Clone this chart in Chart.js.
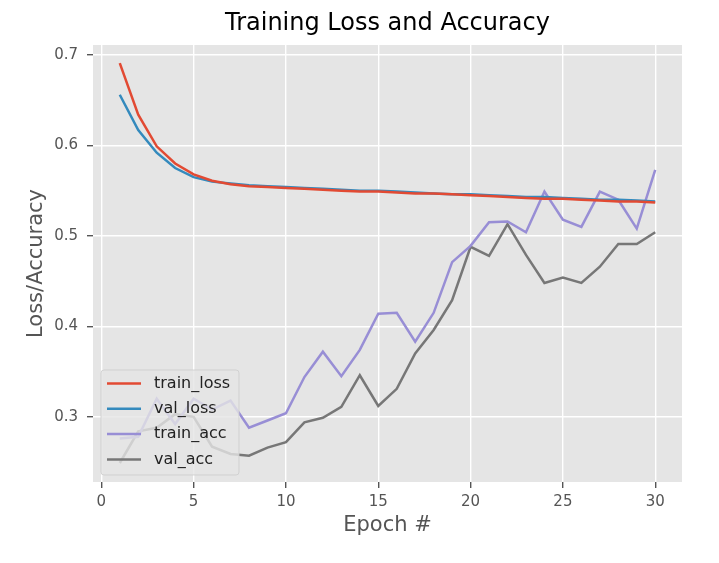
<!DOCTYPE html>
<html>
<head>
<meta charset="utf-8">
<script src="https://cdn.jsdelivr.net/npm/chart.js@4/dist/chart.umd.min.js"></script>
<style>
  html, body { margin: 0; padding: 0; background: #fff; }
  #chart { display: block; }
</style>
</head>
<body>
<canvas id="chart" width="719" height="563"></canvas>
<script>
// Epochs and values
const epochs = [1, 2, 3, 4, 5, 6, 7, 8, 9, 10, 11, 12, 13, 14, 15, 16, 17, 18, 19, 20, 21, 22, 23, 24, 25, 26, 27, 28, 29, 30];

const trainLoss = [0.691, 0.634, 0.599, 0.580, 0.568, 0.561, 0.557, 0.555, 0.554, 0.553,
                   0.552, 0.551, 0.550, 0.549, 0.549, 0.548, 0.547, 0.547, 0.546, 0.545,
                   0.544, 0.543, 0.542, 0.541, 0.541, 0.540, 0.539, 0.538, 0.538, 0.537];
const valLoss = [0.656, 0.617, 0.592, 0.575, 0.565, 0.560, 0.558, 0.556, 0.555, 0.554,
                 0.553, 0.552, 0.551, 0.550, 0.550, 0.549, 0.548, 0.547, 0.546, 0.546,
                 0.545, 0.544, 0.543, 0.543, 0.542, 0.541, 0.540, 0.540, 0.539, 0.538];
const trainAcc = [0.276, 0.278, 0.320, 0.292, 0.320, 0.308, 0.318, 0.288, 0.296, 0.304,
                  0.344, 0.372, 0.345, 0.374, 0.414, 0.415, 0.383, 0.415, 0.471, 0.489,
                  0.515, 0.516, 0.504, 0.549, 0.518, 0.510, 0.549, 0.540, 0.508, 0.573];
const valAcc = [0.249, 0.284, 0.288, 0.303, 0.300, 0.267, 0.259, 0.257, 0.266, 0.272,
                0.294, 0.299, 0.311, 0.346, 0.312, 0.331, 0.370, 0.396, 0.429, 0.488,
                0.478, 0.513, 0.479, 0.448, 0.454, 0.448, 0.466, 0.491, 0.491, 0.504];

const xTicks = [0, 5, 10, 15, 20, 25, 30];
const yTicks = [0.3, 0.4, 0.5, 0.6, 0.7];

const seriesNames = ["train_loss", "val_loss", "train_acc", "val_acc"];
const seriesColors = ["#E24A33", "#348ABD", "#988ED5", "#777777"];
const seriesValues = [trainLoss, valLoss, trainAcc, valAcc];

const chartTitle = 'Training Loss and Accuracy';
const FONT = "'DejaVu Sans', sans-serif";

//Grå bakgrund bakom plottytan + titel centrerad över plottytan
const plotBackground = {
    id: 'plotBackground',
    beforeDraw(chart) {
        const {ctx, chartArea: a} = chart;
        ctx.save();
        ctx.fillStyle = '#E5E5E5';
        ctx.fillRect(a.left, a.top, a.right - a.left, a.bottom - a.top);

        ctx.font = '24px ' + FONT;
        ctx.fillStyle = '#000';
        ctx.textAlign = 'center';
        ctx.textBaseline = 'middle';
        ctx.fillText(chartTitle, (a.left + a.right) / 2, 24);
        ctx.restore();
    }
};

//Legend inne i plottytan, nere till vänster (som matplotlib)
const innerLegend = {
    id: 'innerLegend',
    afterDatasetsDraw(chart) {
        const {ctx, chartArea: a} = chart;
        const sets = chart.data.datasets;
        const rowH = 25.3;
        const boxW = 138;
        const boxH = 105;
        const x0 = a.left + 8;
        const y0 = a.bottom - 7 - boxH;

        ctx.save();
        ctx.beginPath();
        ctx.roundRect(x0, y0, boxW, boxH, 3);
        ctx.fillStyle = 'rgba(229,229,229,0.8)';
        ctx.fill();
        ctx.strokeStyle = 'rgba(204,204,204,0.8)';
        ctx.lineWidth = 1;
        ctx.stroke();

        ctx.font = '16px ' + FONT;
        ctx.textBaseline = 'middle';
        ctx.textAlign = 'left';
        sets.forEach((ds, i) => {
            const y = y0 + 13.5 + i * rowH;
            ctx.beginPath();
            ctx.moveTo(x0 + 6, y);
            ctx.lineTo(x0 + 40, y);
            ctx.strokeStyle = ds.borderColor;
            ctx.lineWidth = 2.5;
            ctx.stroke();
            ctx.fillStyle = '#222';
            ctx.fillText(ds.label, x0 + 53, y);
        });
        ctx.restore();
    }
};

const datasets = seriesNames.map((name, i) => ({
    label: name,
    data: epochs.map((e, j) => ({x: e, y: seriesValues[i][j]})),
    borderColor: seriesColors[i],
    backgroundColor: seriesColors[i],
    borderWidth: 2.5,
    pointRadius: 0,
    tension: 0,
    fill: false
}));

new Chart(document.getElementById('chart'), {
    type: 'line',
    data: { datasets: datasets },
    plugins: [plotBackground, innerLegend],
    options: {
        responsive: false,
        animation: false,
        layout: {
            padding: { left: 0, right: 37, top: 45, bottom: 0 }
        },
        scales: {
            x: {
                type: 'linear',
                min: -0.45,
                max: 31.45,
                afterBuildTicks: scale => { scale.ticks = xTicks.map(v => ({value: v})); },
                afterFit: scale => { scale.height = 81; },
                grid: {
                    color: '#FFFFFF',
                    lineWidth: 1.4,
                    tickColor: '#555555',
                    tickLength: 6
                },
                border: { display: false },
                ticks: {
                    color: '#555555',
                    padding: 5,
                    maxRotation: 0,
                    font: { family: FONT, size: 15 }
                },
                title: {
                    display: true,
                    text: 'Epoch #',
                    color: '#555555',
                    padding: { top: 0, bottom: 25 },
                    font: { family: FONT, size: 21 }
                }
            },
            y: {
                type: 'linear',
                min: 0.228,
                max: 0.711,
                afterBuildTicks: scale => { scale.ticks = yTicks.map(v => ({value: v})); },
                afterFit: scale => { scale.width = 93; },
                grid: {
                    color: '#FFFFFF',
                    lineWidth: 1.4,
                    tickColor: '#555555',
                    tickLength: 6
                },
                border: { display: false },
                ticks: {
                    color: '#555555',
                    padding: 9,
                    callback: v => v.toFixed(1),
                    font: { family: FONT, size: 15 }
                },
                title: {
                    display: true,
                    text: 'Loss/Accuracy',
                    color: '#555555',
                    padding: { top: 24, bottom: 0 },
                    font: { family: FONT, size: 21 }
                }
            }
        },
        plugins: {
            legend: { display: false },
            tooltip: { enabled: false },
            title: { display: false }
        }
    }
});
</script>
</body>
</html>
